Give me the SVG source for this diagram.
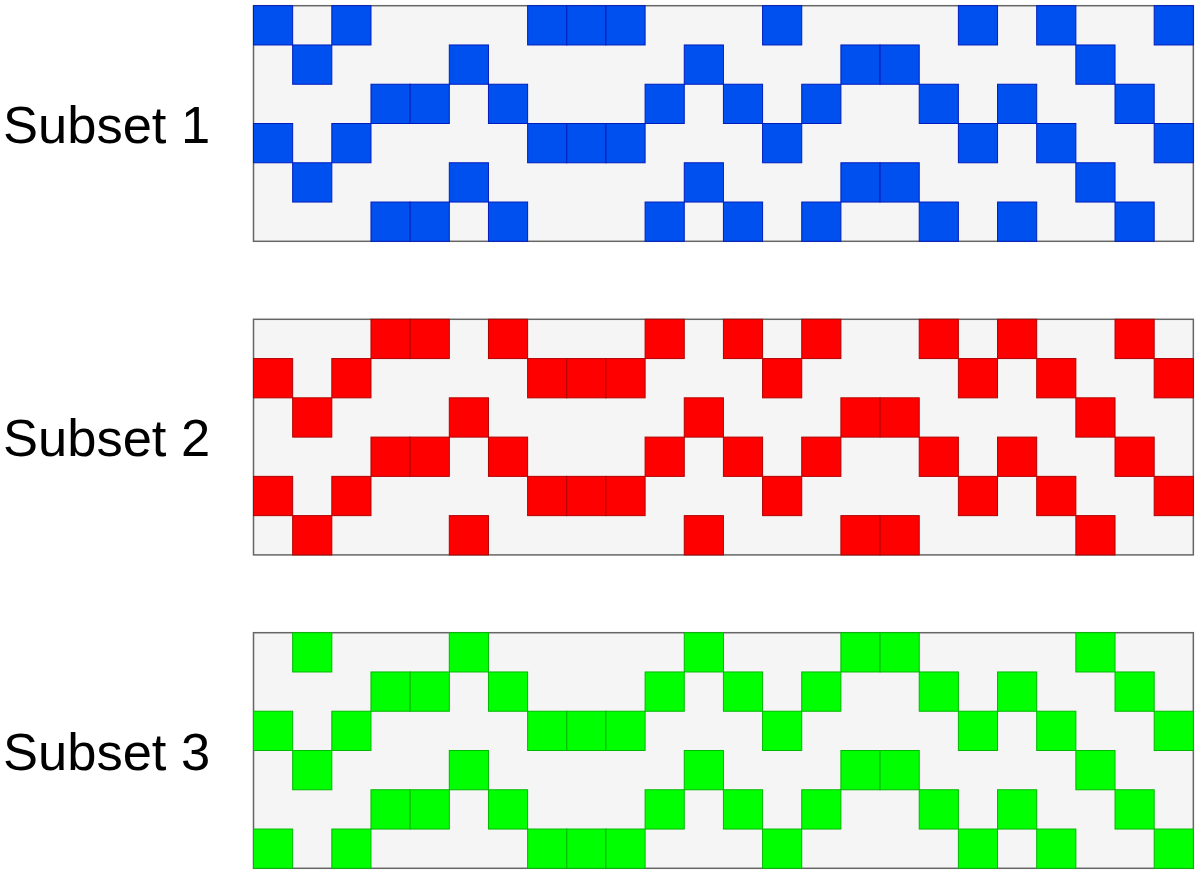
<svg xmlns="http://www.w3.org/2000/svg" xmlns:xlink="http://www.w3.org/1999/xlink" width="1200" height="875" viewBox="0 0 1200 875">
<style>
.bg{fill:#f5f5f5;stroke:#666666;stroke-width:1.5}
.blue{fill:#0050ef;stroke:#001dbc;stroke-width:1}
.red{fill:#ff0000;stroke:#b20000;stroke-width:1}
.green{fill:#00ff00;stroke:#00b800;stroke-width:1}
.lbl{font-family:"Liberation Sans",Arial,sans-serif;font-size:52.5px;fill:#000000}
</style>
<defs>
<g id="rowA">
<rect x="253.5" y="0" width="39.16" height="39.27"/>
<rect x="331.82" y="0" width="39.16" height="39.27"/>
<rect x="527.62" y="0" width="39.16" height="39.27"/>
<rect x="566.78" y="0" width="39.16" height="39.27"/>
<rect x="605.94" y="0" width="39.16" height="39.27"/>
<rect x="762.58" y="0" width="39.16" height="39.27"/>
<rect x="958.38" y="0" width="39.16" height="39.27"/>
<rect x="1036.7" y="0" width="39.16" height="39.27"/>
<rect x="1154.18" y="0" width="39.16" height="39.27"/>
</g>
<g id="rowB">
<rect x="292.66" y="0" width="39.16" height="39.27"/>
<rect x="449.3" y="0" width="39.16" height="39.27"/>
<rect x="684.26" y="0" width="39.16" height="39.27"/>
<rect x="840.9" y="0" width="39.16" height="39.27"/>
<rect x="880.06" y="0" width="39.16" height="39.27"/>
<rect x="1075.86" y="0" width="39.16" height="39.27"/>
</g>
<g id="rowC">
<rect x="370.98" y="0" width="39.16" height="39.27"/>
<rect x="410.14" y="0" width="39.16" height="39.27"/>
<rect x="488.46" y="0" width="39.16" height="39.27"/>
<rect x="645.1" y="0" width="39.16" height="39.27"/>
<rect x="723.42" y="0" width="39.16" height="39.27"/>
<rect x="801.74" y="0" width="39.16" height="39.27"/>
<rect x="919.22" y="0" width="39.16" height="39.27"/>
<rect x="997.54" y="0" width="39.16" height="39.27"/>
<rect x="1115.02" y="0" width="39.16" height="39.27"/>
</g>
</defs>
<g id="subset1">
<text class="lbl" x="3" y="142.5">Subset 1</text>
<rect class="bg" x="253.5" y="5.7" width="939.84" height="235.6"/>
<use xlink:href="#rowA" class="blue" y="5.7"/>
<use xlink:href="#rowB" class="blue" y="44.97"/>
<use xlink:href="#rowC" class="blue" y="84.23"/>
<use xlink:href="#rowA" class="blue" y="123.5"/>
<use xlink:href="#rowB" class="blue" y="162.77"/>
<use xlink:href="#rowC" class="blue" y="202.03"/>
</g>
<g id="subset2">
<text class="lbl" x="3" y="456">Subset 2</text>
<rect class="bg" x="253.5" y="319.3" width="939.84" height="235.6"/>
<use xlink:href="#rowC" class="red" y="319.3"/>
<use xlink:href="#rowA" class="red" y="358.57"/>
<use xlink:href="#rowB" class="red" y="397.83"/>
<use xlink:href="#rowC" class="red" y="437.1"/>
<use xlink:href="#rowA" class="red" y="476.37"/>
<use xlink:href="#rowB" class="red" y="515.63"/>
</g>
<g id="subset3">
<text class="lbl" x="3" y="769.5">Subset 3</text>
<rect class="bg" x="253.5" y="632.7" width="939.84" height="235.6"/>
<use xlink:href="#rowB" class="green" y="632.7"/>
<use xlink:href="#rowC" class="green" y="671.97"/>
<use xlink:href="#rowA" class="green" y="711.23"/>
<use xlink:href="#rowB" class="green" y="750.5"/>
<use xlink:href="#rowC" class="green" y="789.77"/>
<use xlink:href="#rowA" class="green" y="829.03"/>
</g>
<g id="connectors"/>
</svg>
